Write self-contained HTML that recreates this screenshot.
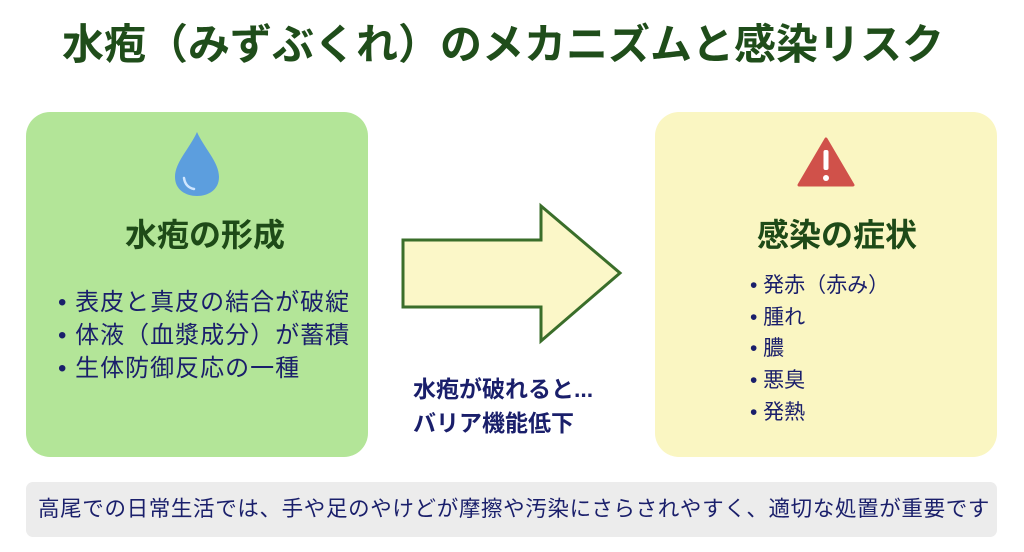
<!DOCTYPE html>
<html><head><meta charset="utf-8"><style>
*{margin:0;padding:0;box-sizing:border-box}
body{width:1024px;height:552px;background:#fff;position:relative;overflow:hidden;font-family:"Liberation Sans","Noto Sans CJK JP",sans-serif}
.a{position:absolute;white-space:nowrap}
.title{left:62px;top:20px;font-size:42px;font-weight:bold;color:#1f4d1a;line-height:50px}
.box{position:absolute;top:112px;width:342px;height:345px;border-radius:24px}
.h{font-size:32px;font-weight:bold;color:#1e4a18;line-height:40px}
.li{color:#1a1f6b;line-height:33px}
</style></head><body>
<div class="a title">水疱（みずぶくれ）のメカニズムと感染リスク</div>
<div class="box" style="left:26px;background:#b3e598"></div>
<div class="box" style="left:655px;background:#faf6c2"></div>
<svg class="a" style="left:0;top:0" width="1024" height="552">
<path d="M197 132 C190 148 175 162 175 177 C175 190 186 196 197 196 C208 196 219 190 219 177 C219 162 204 148 197 132Z" fill="#5c9ede"/>
<path d="M184 178 C185 185 189 188 194 189" stroke="#cfe6ff" stroke-width="2.5" fill="none" stroke-linecap="round"/>
<path d="M826 139 L853 185 L799 185 Z" fill="#d0514a" stroke="#d0514a" stroke-width="3" stroke-linejoin="round"/>
<rect x="823.5" y="150" width="5" height="20" rx="2" fill="#fff"/>
<circle cx="826" cy="178" r="3" fill="#fff"/>
<path d="M403 240 L541 240 L541 206 L620 273 L541 341 L541 307 L403 307 Z" fill="#fbf7c8" stroke="#3a6e2a" stroke-width="3"/>
<rect x="26" y="482" width="971" height="55" rx="7" fill="#ececec"/>
</svg>
<div class="a h" style="left:125px;top:215px">水疱の形成</div>
<div class="a h" style="left:757px;top:215px">感染の症状</div>
<div class="a li" style="left:58px;top:286px;font-size:24px;letter-spacing:1px">• 表皮と真皮の結合が破綻<br>• 体液（血漿成分）が蓄積<br>• 生体防御反応の一種</div>
<div class="a li" style="left:750px;top:270px;font-size:21px;line-height:31.7px">• 発赤（赤み）<br>• 腫れ<br>• 膿<br>• 悪臭<br>• 発熱</div>
<div class="a" style="left:413px;top:372px;font-size:23px;font-weight:bold;color:#1a1f6b;line-height:34px">水疱が破れると...<br>バリア機能低下</div>
<div class="a" style="left:38px;top:496px;font-size:21.5px;color:#1a1f6b;line-height:26px;letter-spacing:0.65px">高尾での日常生活では、手や足のやけどが摩擦や汚染にさらされやすく、適切な処置が重要です</div>
</body></html>
